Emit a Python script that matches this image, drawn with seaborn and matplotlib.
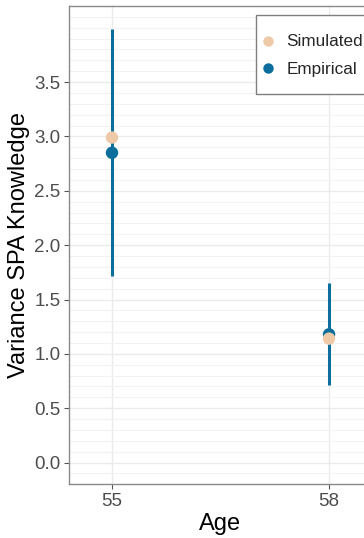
import numpy as np
import pandas as pd
import matplotlib
matplotlib.use("Agg")
import matplotlib.pyplot as plt
from matplotlib.ticker import MultipleLocator, FixedLocator
from matplotlib.lines import Line2D
from matplotlib.patches import Rectangle
import seaborn as sns

# ---- data ----
ages = [55, 58]
simulated = [2.99, 1.14]
empirical = [2.85, 1.18]
emp_lower = [1.72, 0.71]
emp_upper = [3.99, 1.65]
series_labels = ["Simulated", "Empirical"]
y_ticks = [0.0, 0.5, 1.0, 1.5, 2.0, 2.5, 3.0, 3.5]

peach = "#EFCAA9"
blue = "#0B6E9C"

sns.set_theme(style="white")
plt.rcParams["font.family"] = ["Liberation Sans", "DejaVu Sans"]

df = pd.DataFrame({
    "Age": ages * 2,
    "Value": simulated + empirical,
    "Source": [series_labels[0]] * len(ages) + [series_labels[1]] * len(ages),
})

W, H = 364, 538
fig = plt.figure(figsize=(W / 100, H / 100), dpi=100)
left_px, right_px, top_px, bottom_px = 69.3, 371.0, 6.0, 484.3
ax = fig.add_axes([left_px / W, 1 - bottom_px / H,
                   (right_px - left_px) / W, (bottom_px - top_px) / H])

ax.set_xlim(54.41, 58.58)
ax.set_ylim(-0.2, 4.2)

# grid
ax.yaxis.set_major_locator(FixedLocator(y_ticks))
ax.yaxis.set_minor_locator(MultipleLocator(0.1))
ax.xaxis.set_major_locator(FixedLocator(ages))
ax.grid(which="major", axis="both", color="#EBEBEB", linewidth=1.0, zorder=0)
ax.grid(which="minor", axis="y", color="#F2F2F2", linewidth=0.8, zorder=0)
ax.set_axisbelow(True)

# error bars
ax.vlines(ages, emp_lower, emp_upper, color=blue, linewidth=2.2, zorder=2)

# points: empirical first, simulated on top
sns.scatterplot(data=df[df["Source"] == "Empirical"], x="Age", y="Value",
                color=blue, s=80, edgecolor="none", ax=ax, zorder=3,
                legend=False)
sns.scatterplot(data=df[df["Source"] == "Simulated"], x="Age", y="Value",
                color=peach, s=80, edgecolor="none", ax=ax, zorder=4,
                legend=False)

ax.set_yticklabels([f"{v:.1f}" for v in y_ticks])
ax.set_xticklabels([str(a) for a in ages])
ax.tick_params(axis="both", which="major", length=3.5, width=0.8,
               color="#555555", labelsize=13.5, labelcolor="#4D4D4D", pad=3,
               left=True, bottom=True)
ax.tick_params(axis="y", which="minor", length=0)

for sp in ax.spines.values():
    sp.set_color("#8A8A8A")
    sp.set_linewidth(1.0)

ax.set_xlabel("Age", fontsize=17, color="black", labelpad=2)
ax.set_ylabel("Variance SPA Knowledge", fontsize=17, color="black", labelpad=3)

# legend box (ggplot style) drawn in figure pixels
ax.add_patch(Rectangle((256 / W, 1 - 94 / H), 130 / W, (94 - 14.7) / H,
                       transform=fig.transFigure, facecolor="white",
                       edgecolor="#7F7F7F", linewidth=1.0, zorder=5,
                       clip_on=False))
handles = [
    Line2D([], [], marker="o", linestyle="none", markersize=7.5,
           markerfacecolor=peach, markeredgecolor="none"),
    Line2D([], [], marker="o", linestyle="none", markersize=7.5,
           markerfacecolor=blue, markeredgecolor="none"),
]
leg = ax.legend(handles, series_labels, loc="upper left",
                bbox_to_anchor=(261.2 / W, 1 - 34.5 / H),
                bbox_transform=fig.transFigure, frameon=False,
                fontsize=12.3, borderpad=0, labelspacing=0.74,
                handletextpad=0.66, handlelength=0.8, borderaxespad=0)
leg.set_zorder(6)

fig.savefig("out.png", dpi=100)
